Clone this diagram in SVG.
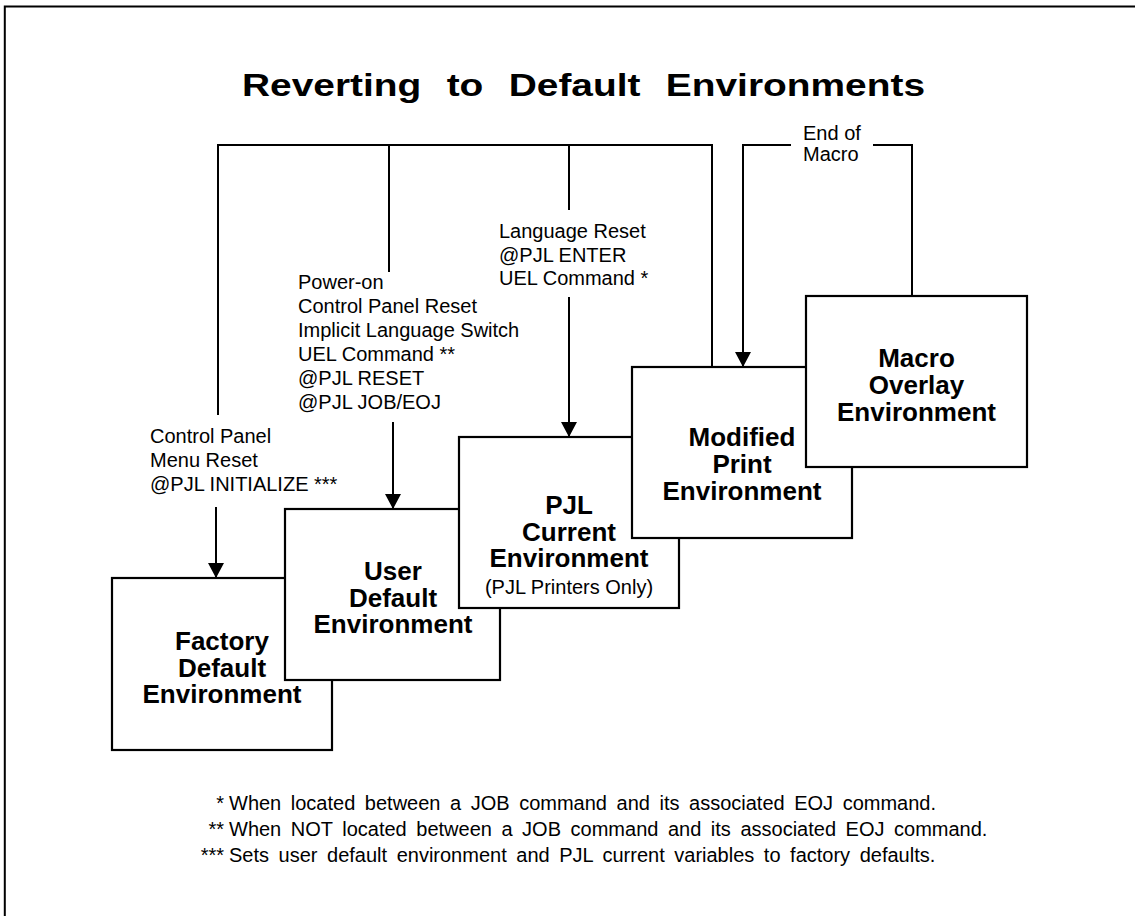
<svg xmlns="http://www.w3.org/2000/svg" width="1135" height="916" viewBox="0 0 1135 916">
  <defs>
    <marker id="arrowhead" markerUnits="userSpaceOnUse" markerWidth="16" markerHeight="16" viewBox="0 0 16 16" refX="15" refY="8" orient="auto">
      <path d="M0,0 L15,8 L0,16 Z" fill="#000"/>
    </marker>
    <style>
      .frame { fill: none; stroke: #000; stroke-width: 2; }
      .box { fill: #fff; stroke: #000; stroke-width: 2.2; }
      .wire { fill: none; stroke: #000; stroke-width: 2; }
      .arrow { fill: none; stroke: #000; stroke-width: 2; marker-end: url(#arrowhead); }
      text { font-family: "Liberation Sans", Arial, Helvetica, sans-serif; fill: #000; }
      .title { font-weight: bold; font-size: 32px; word-spacing: 12px; }
      .name { font-weight: bold; font-size: 26px; text-anchor: middle; }
      .sub { font-size: 20px; text-anchor: middle; }
      .label { font-size: 20px; }
      .note { font-size: 20px; word-spacing: 4px; }
      .ast { font-size: 20px; text-anchor: end; }
    </style>
  </defs>

  <rect x="0" y="0" width="1135" height="916" fill="#fff"/>
  <path class="frame" d="M1135,6.5 H4.8 V916"/>

  <text class="title" x="242" y="96" textLength="683" lengthAdjust="spacingAndGlyphs">Reverting to Default Environments</text>

  <!-- connectors -->
  <g id="connectors">
    <path class="wire" d="M218,415 V145 H712 V367"/>
    <path class="wire" d="M389,145 V272"/>
    <path class="wire" d="M569,145 V210"/>
    <path class="arrow" d="M216,507 V578"/>
    <path class="arrow" d="M393,422 V509"/>
    <path class="arrow" d="M569,297 V437"/>
    <path class="arrow" d="M791,145 H743 V367"/>
    <path class="wire" d="M873,145 H912 V296"/>
  </g>

  <!-- trigger labels -->
  <g id="labels">
    <text class="label" x="150" y="443">Control Panel</text>
    <text class="label" x="150" y="467">Menu Reset</text>
    <text class="label" x="150" y="491">@PJL INITIALIZE ***</text>

    <text class="label" x="298" y="289">Power-on</text>
    <text class="label" x="298" y="313">Control Panel Reset</text>
    <text class="label" x="298" y="337">Implicit Language Switch</text>
    <text class="label" x="298" y="361">UEL Command **</text>
    <text class="label" x="298" y="385">@PJL RESET</text>
    <text class="label" x="298" y="409">@PJL JOB/EOJ</text>

    <text class="label" x="499" y="238">Language Reset</text>
    <text class="label" x="499" y="261.5">@PJL ENTER</text>
    <text class="label" x="499" y="285">UEL Command *</text>

    <text class="label" x="803" y="140">End of</text>
    <text class="label" x="803" y="161">Macro</text>
  </g>

  <!-- environment boxes, back to front -->
  <g id="factory-default">
    <rect class="box" x="112" y="578" width="220" height="172"/>
    <text class="name" x="222" y="650">Factory</text>
    <text class="name" x="222" y="677">Default</text>
    <text class="name" x="222" y="703">Environment</text>
  </g>
  <g id="user-default">
    <rect class="box" x="285" y="509" width="215" height="171"/>
    <text class="name" x="393" y="580">User</text>
    <text class="name" x="393" y="607">Default</text>
    <text class="name" x="393" y="633">Environment</text>
  </g>
  <g id="pjl-current">
    <rect class="box" x="459" y="437" width="220" height="171"/>
    <text class="name" x="569" y="514">PJL</text>
    <text class="name" x="569" y="541">Current</text>
    <text class="name" x="569" y="567">Environment</text>
    <text class="sub" x="569" y="594">(PJL Printers Only)</text>
  </g>
  <g id="modified-print">
    <rect class="box" x="632" y="367" width="220" height="171"/>
    <text class="name" x="742" y="446">Modified</text>
    <text class="name" x="742" y="473">Print</text>
    <text class="name" x="742" y="500">Environment</text>
  </g>
  <g id="macro-overlay">
    <rect class="box" x="806" y="296" width="221" height="171"/>
    <text class="name" x="916.5" y="367">Macro</text>
    <text class="name" x="916.5" y="394">Overlay</text>
    <text class="name" x="916.5" y="421">Environment</text>
  </g>

  <!-- footnotes -->
  <g id="footnotes">
    <text class="ast" x="224" y="810">*</text>
    <text class="note" x="229" y="810">When located between a JOB command and its associated EOJ command.</text>
    <text class="ast" x="224" y="836">**</text>
    <text class="note" x="229" y="836">When NOT located between a JOB command and its associated EOJ command.</text>
    <text class="ast" x="224" y="862">***</text>
    <text class="note" x="229" y="862">Sets user default environment and PJL current variables to factory defaults.</text>
  </g>
</svg>
